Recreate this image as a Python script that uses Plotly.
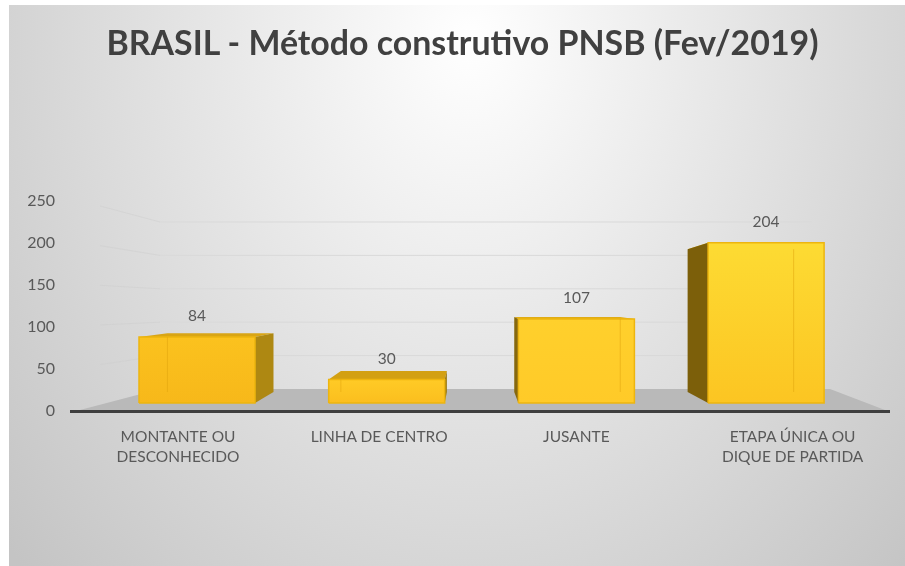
import plotly.graph_objects as go

title = "BRASIL - Método construtivo PNSB (Fev/2019)"
categories = ["MONTANTE OU<br>DESCONHECIDO", "LINHA DE CENTRO", "JUSANTE", "ETAPA ÚNICA OU<br>DIQUE DE PARTIDA"]
values = [84, 30, 107, 204]
y_ticks = [0, 50, 100, 150, 200, 250]
label_offsets = [-0.1, -0.04, 0.0, 0.14]

front_bottom = ["#F7B81A", "#FBBE1E", "#FFCA28", "#FCC522"]
front_top = ["#FBC21E", "#FFCB26", "#FFD02C", "#FDDB33"]
side_colors = ["#AE8812", "#9C7A10", "#86680E", "#7C5F0A"]
top_colors = ["#D9A514", "#D3A012", "#E0AC14", "#E8B818"]

# perspective model of the pseudo-3D chart (pixels per unit of the picture)
AXIS_Y, PX_UNIT = 410.0, 0.84        # y axis scale in pixels
AXIS_X0, AXIS_X1 = 70.0, 890.0
CENTER0, STEP = 197.0, 189.7         # x pixel of category 0, pixels per category
HALF = 58.0 / STEP
FRONT_BASE, FRONT_S = (AXIS_Y - 403.0) / PX_UNIT, 0.785 / PX_UNIT
BACK_BASE, BACK_S = (AXIS_Y - 392.0) / PX_UNIT, 0.70 / PX_UNIT
WALL_BASE, WALL_S = (AXIS_Y - 389.0) / PX_UNIT, 0.668 / PX_UNIT
VP = (470.0 - CENTER0) / STEP
K = 0.914
LABEL_GAP = 19.5 / PX_UNIT

W, H = 905, 566
x_min = (AXIS_X0 - CENTER0) / STEP
x_max = (AXIS_X1 - CENTER0) / STEP
y_max = AXIS_Y / PX_UNIT


def back_x(x):
    return VP + K * (x - VP)


def px_x(p):
    return (p - CENTER0) / STEP


fig = go.Figure()


def poly(xs, ys, color=None, grad=None, line=None, lw=1):
    kw = dict(x=xs + xs[:1], y=ys + ys[:1], mode="lines", fill="toself",
              line=dict(color=line or "rgba(0,0,0,0)", width=lw), hoverinfo="skip", showlegend=False)
    if grad:
        kw["fillgradient"] = dict(type="vertical", colorscale=[[0, grad[0]], [1, grad[1]]])
    else:
        kw["fillcolor"] = color
    fig.add_trace(go.Scatter(**kw))


# floor
poly([px_x(80), px_x(160), px_x(830), px_x(885)], [0, WALL_BASE, WALL_BASE, 0], color="#B9B9B9")

# gridlines: faint left wall + back wall
for t in y_ticks[1:]:
    wall = WALL_BASE + WALL_S * t
    fig.add_trace(go.Scatter(x=[px_x(100), px_x(160)], y=[t + (wall - t) * 0.27, wall], mode="lines",
                             line=dict(color="rgba(205,205,205,0.45)", width=1),
                             hoverinfo="skip", showlegend=False))
    fig.add_trace(go.Scatter(x=[px_x(160), px_x(812)], y=[wall, wall], mode="lines",
                             line=dict(color="#D9D9D9", width=1),
                             hoverinfo="skip", showlegend=False))

# bars
for i, v in enumerate(values):
    fl, fr = i - HALF, i + HALF
    bl, br = back_x(fl), back_x(fr)
    ft = FRONT_BASE + FRONT_S * v
    bt = BACK_BASE + BACK_S * v
    # top face
    poly([fl, bl, br, fr], [ft, bt, bt, ft], color=top_colors[i])
    # visible side face
    if bl < fl:
        poly([fl, bl, bl, fl], [FRONT_BASE, BACK_BASE, bt, ft], color=side_colors[i])
    if br > fr:
        poly([fr, br, br, fr], [FRONT_BASE, BACK_BASE, bt, ft], color=side_colors[i])
    # front face
    poly([fl, fr, fr, fl], [FRONT_BASE, FRONT_BASE, ft, ft],
         grad=(front_bottom[i], front_top[i]), line="#EDB50F", lw=1.5)
    # faint hidden edges seen through the front
    ex = br if br < fr else bl
    if fl < ex < fr:
        fig.add_trace(go.Scatter(x=[ex, ex], y=[BACK_BASE, min(bt, ft)], mode="lines",
                                 line=dict(color="rgba(225,165,15,0.55)", width=1),
                                 hoverinfo="skip", showlegend=False))

# value labels
fig.add_trace(go.Scatter(
    x=list(range(len(values))),
    y=[FRONT_BASE + FRONT_S * v + LABEL_GAP for v in values],
    text=[str(v) for v in values], mode="text", textposition="middle center",
    textfont=dict(family="Lato", size=15.5, color="#595959"),
    hoverinfo="skip", showlegend=False))

fig.update_layout(
    width=W, height=H,
    margin=dict(l=AXIS_X0, r=W - AXIS_X1, t=0, b=H - AXIS_Y, pad=0),
    paper_bgcolor="rgba(0,0,0,0)", plot_bgcolor="rgba(0,0,0,0)",
    font=dict(family="Lato", color="#595959"),
    title=dict(text=f"<b>{title}</b>", x=462.5 / W, xanchor="center", y=1 - 43 / H, yanchor="middle",
               font=dict(family="Lato", size=33.9, color="#404040")),
    showlegend=False,
    xaxis=dict(range=[x_min, x_max],
               tickmode="array",
               tickvals=[i + o for i, o in enumerate(label_offsets)],
               ticktext=categories, ticks="", ticklabelstandoff=10,
               tickfont=dict(family="Lato", size=15.5, color="#595959"),
               showgrid=False, zeroline=False, showline=True, linecolor="#3F3F3F", linewidth=3),
    yaxis=dict(range=[0, y_max], tickmode="array", tickvals=y_ticks, ticks="",
               ticklabelstandoff=14,
               tickfont=dict(family="Lato", size=16, color="#595959"),
               showgrid=False, zeroline=False, showline=False),
)

post = """
document.documentElement.style.background='#ffffff';
document.body.style.margin='0';
document.body.style.background='transparent';
var bg=document.createElement('div');
bg.style.cssText='position:fixed;left:9px;top:5px;right:0;bottom:0;z-index:-1;background:radial-gradient(ellipse 620px 760px at 461px 35px,#ffffff 0%,#c4c4c4 100%);';
document.body.appendChild(bg);
document.querySelectorAll('.main-svg').forEach(function(s){s.style.filter='blur(0.5px)';});
"""
fig.write_html("out.html", post_script=post, config=dict(displayModeBar=False))
